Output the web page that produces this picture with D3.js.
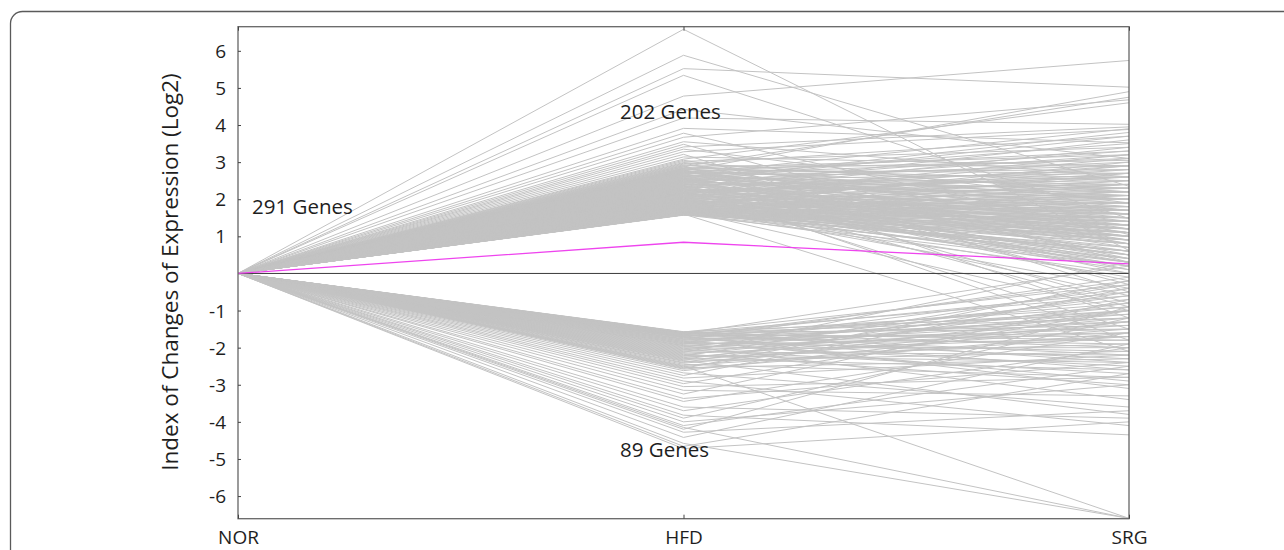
<!DOCTYPE html>
<html>
<head>
<meta charset="utf-8">
<script src="https://cdn.jsdelivr.net/npm/d3@7"></script>
<style>
  html, body { margin: 0; padding: 0; background: #fff; }
  svg { display: block; }
  text { font-family: "Open Sans", "Noto Sans", sans-serif; fill: #1e1e1e; }
</style>
</head>
<body>
<svg id="chart" width="1284" height="550"></svg>
<script>
// ---------------- DATA ----------------
const categories = ["NOR", "HFD", "SRG"];
const yTickValues = [6, 5, 4, 3, 2, 1, -1, -2, -3, -4, -5, -6];
const yTitle = "Index of Changes of Expression (Log2)";
const groupLabels = ["291 Genes", "202 Genes", "89 Genes"];

// 202 up-regulated genes (NOR = 0)
const upHFD = [
  6.58, 5.88, 5.52, 5.34, 4.78, 4.42, 4.19, 3.91, 3.78, 3.67, 3.55, 3.48, 3.41, 3.35, 3.28, 3.21, 3.14,
  3.08, 3.05, 3.02, 2.99, 2.97, 2.95, 2.93, 2.91, 2.90, 2.88, 2.87, 2.85, 2.84, 2.83, 2.82, 2.81, 2.80, 2.79, 2.78, 2.77, 2.76, 2.75, 2.74, 2.73, 2.72,
  2.71, 2.70, 2.69, 2.67, 2.66, 2.65, 2.63, 2.62, 2.61, 2.60,
  2.58, 2.57, 2.56, 2.54, 2.53, 2.52, 2.50, 2.49, 2.48, 2.46,
  2.45, 2.44, 2.42, 2.41, 2.40, 2.38, 2.37, 2.36, 2.34, 2.33,
  2.32, 2.31, 2.29, 2.28, 2.27, 2.26, 2.24, 2.23, 2.22, 2.21,
  2.20, 2.19, 2.17, 2.16, 2.15, 2.14, 2.13, 2.12, 2.10, 2.09,
  2.08, 2.07, 2.06, 2.05, 2.04, 2.03, 2.02, 2.01, 2.00, 1.99,
  1.98, 1.97, 1.96, 1.95, 1.95, 1.94, 1.93, 1.92, 1.91, 1.90,
  1.89, 1.89, 1.88, 1.87, 1.86, 1.85, 1.85, 1.84, 1.83, 1.82,
  1.81, 1.81, 1.80, 1.79, 1.78, 1.78, 1.77, 1.76, 1.75, 1.75,
  1.74, 1.73, 1.73, 1.72, 1.71, 1.71, 1.70, 1.69, 1.69, 1.68,
  1.68, 1.67, 1.67, 1.66, 1.66, 1.65, 1.65, 1.64, 1.64, 1.63,
  1.63, 1.62, 1.62, 1.62, 1.61, 1.61, 1.61, 1.60, 1.60, 1.60,
  1.59, 1.59, 1.59, 1.59, 1.58, 1.58, 1.58, 1.58, 1.58, 1.57,
  2.68, 2.55, 2.47, 2.39, 2.30, 2.18, 2.11, 1.99, 1.87, 1.76,
  2.64, 2.51, 2.43, 2.35, 2.25, 2.16, 2.06, 1.94, 1.83, 1.72,
  2.59, 2.49, 2.38, 2.27, 2.17, 2.04, 1.92, 1.80, 1.70, 1.63
];
const upSRG = [
  0.62, 2.35, 5.02, 1.48, 5.74, 3.10, 4.02, 3.52, 1.05, 4.68, 2.60, 0.30, 3.95, 1.90, 3.88, -0.50, 2.90,
  4.60, 1.20, 3.40, 2.20, 0.80, 3.70, 1.70, -1.20, 2.90, 4.75, 0.40, 2.50, 3.20, 1.40, 2.00, 3.05, -0.30, 2.70, 1.10, 4.90, 2.30, 0.90, 3.30, 1.60, 2.80,
  1.8, 2.6, 0.5, 3.1, 1.3, 2.2, 0.1, 2.9, 1.7, 3.5,
  2.4, 1.0, 2.0, -0.8, 1.5, 2.7, 0.7, 3.0, 1.9, 2.3,
  1.2, 3.3, 2.1, 0.3, 1.6, 2.5, -0.2, 1.4, 2.8, 0.9,
  2.2, 1.1, 3.6, 1.7, 0.6, 2.0, 1.3, 2.6, -1.5, 1.8,
  0.4, 2.4, 1.5, 2.9, 1.0, 1.9, 0.2, 2.3, 1.6, 3.2,
  1.4, 0.8, 2.1, 1.2, 2.7, 0.5, 1.7, 2.5, 1.1, -0.6,
  2.0, 1.3, 0.9, 2.8, 1.6, 0.3, 2.2, 1.0, 1.8, 0.7,
  2.4, 1.5, 0.1, 1.9, 1.2, 2.6, 0.6, 1.4, 3.0, 0.9,
  1.7, 0.4, 2.1, 1.1, -0.4, 1.5, 2.3, 0.8, 1.3, 1.9,
  0.2, 1.6, 2.5, 1.0, 1.4, 0.6, 2.0, 1.2, -1.0, 1.8,
  0.9, 1.3, 2.2, 0.5, 1.7, 1.1, 0.3, 1.5, 2.7, 0.8,
  1.6, 1.0, 0.0, 1.9, 1.2, 0.6, 2.4, 1.4, 0.7, -2.1,
  1.1, 1.8, 0.4, 1.3, 2.1, 0.9, 1.5, 0.2, 1.7, 1.0,
  3.9, 0.0, 3.7, 2.6, -0.9, 3.4, 1.6, 0.2, 2.9, 1.4,
  2.1, 3.8, 1.0, -1.8, 2.4, 1.2, 3.1, 1.5, 0.5, 2.2,
  0.8, 2.0, 3.2, 1.3, 2.6, 0.3, 1.9, -0.1, 1.1, 0.6
];

// 89 down-regulated genes (NOR = 0)
const downHFD = [
  -2.62, -2.68, -2.75, -2.82, -2.90, -2.97, -3.05, -3.15, -3.25, -3.37, -3.45, -3.60,
  -3.70, -3.82, -3.90, -4.00, -4.10, -4.15, -4.20, -4.28, -4.42, -4.58, -4.66, -4.72,
  -1.57, -1.58, -1.58, -1.59, -1.60, -1.60, -1.61, -1.62, -1.62, -1.63,
  -1.64, -1.65, -1.66, -1.67, -1.68, -1.69, -1.70, -1.71, -1.72, -1.73,
  -1.74, -1.76, -1.77, -1.78, -1.80, -1.81, -1.83, -1.84, -1.86, -1.87,
  -1.89, -1.90, -1.92, -1.94, -1.95, -1.97, -1.99, -2.01, -2.03, -2.05,
  -2.07, -2.09, -2.11, -2.13, -2.15, -2.17, -2.19, -2.21, -2.23, -2.25,
  -2.27, -2.29, -2.31, -2.33, -2.35, -2.37, -2.40, -2.42, -2.45, -2.48,
  -2.50, -2.52, -2.54, -2.56, -2.58
];
const downSRG = [
  -1.3, -3.6, -0.4, -2.2, -4.1, -1.0, -2.8, -3.3, -0.7, -2.4, -1.6, -3.9,
  -2.0, -4.35, -1.2, -3.0, -2.5, -6.6, -0.9, -3.7, -1.9, -6.6, -2.7, -4.0,
  -1.1, -0.3, -2.0, -1.5, -0.6, -2.4, -1.2, 0.2, -1.8, -0.9,
  -1.4, -2.2, -0.5, -1.7, -3.1, -1.0, -0.2, -2.6, -1.3, -1.9,
  -0.8, -1.6, -2.3, -0.1, -1.2, -2.9, -1.5, -0.7, -2.1, -1.0,
  -1.8, -0.4, -2.5, -1.3, -3.4, -0.9, -1.6, -2.0, -1.1, -2.7,
  -0.6, -1.4, -2.2, 0.3, -1.7, -3.0, -1.0, -2.4, -0.3, -1.9,
  -1.2, -2.6, -0.8, -1.5, -3.8, -2.1, -0.5, -1.3, -2.8, -1.7,
  -6.6, -1.0, -2.3, -0.2, -1.6
];

// highlighted gene (magenta)
const highlight = [0, 0.84, 0.26];

// ---------------- CHART ----------------
const svg = d3.select("#chart");
const plot = { left: 238, right: 1129, top: 26.7, bottom: 518.7 };

const x = d3.scalePoint().domain(categories).range([plot.left, plot.right]);
const y = d3.scaleLinear().domain([-6.61, 6.65]).range([plot.bottom, plot.top]);

// outer rounded frame
svg.append("rect")
  .attr("x", 10.5).attr("y", 11.5)
  .attr("width", 1320).attr("height", 620)
  .attr("rx", 12).attr("ry", 12)
  .attr("fill", "none").attr("stroke", "#5a5a5a").attr("stroke-width", 1.3);

const genes = [];
upHFD.forEach((v, i) => genes.push([0, v, upSRG[i]]));
downHFD.forEach((v, i) => genes.push([0, v, downSRG[i]]));

const line = d3.line().x((d, i) => x(categories[i])).y(d => y(d));

svg.append("defs").append("clipPath").attr("id", "pc")
  .append("rect").attr("x", plot.left).attr("y", plot.top)
  .attr("width", plot.right - plot.left).attr("height", plot.bottom - plot.top);

const g = svg.append("g").attr("clip-path", "url(#pc)");
g.selectAll("path.gene").data(genes).join("path")
  .attr("class", "gene")
  .attr("d", line)
  .attr("fill", "none")
  .attr("stroke", "#c3c3c3")
  .attr("stroke-width", 1);

// zero line
g.append("line")
  .attr("x1", plot.left).attr("x2", plot.right)
  .attr("y1", y(0)).attr("y2", y(0))
  .attr("stroke", "#3a3a3a").attr("stroke-width", 1);

// magenta line
g.append("path").datum(highlight)
  .attr("d", line)
  .attr("fill", "none")
  .attr("stroke", "#ee44ee")
  .attr("stroke-width", 1.3);

// plot frame
svg.append("rect")
  .attr("x", plot.left).attr("y", plot.top)
  .attr("width", plot.right - plot.left).attr("height", plot.bottom - plot.top)
  .attr("fill", "none").attr("stroke", "#666").attr("stroke-width", 1.3);

// y axis
const yAxis = svg.append("g")
  .attr("transform", `translate(${plot.left},0)`)
  .call(d3.axisLeft(y).tickValues(yTickValues).tickFormat(d => String(d)).tickSizeInner(-3).tickSizeOuter(0).tickPadding(12));
yAxis.select(".domain").remove();
yAxis.selectAll(".tick line").attr("stroke", "#444");
yAxis.selectAll(".tick text").style("font-size", "19px").attr("fill", "#1e1e1e").attr("dy", "0.34em");

// x axis (bottom)
const xAxis = svg.append("g")
  .attr("transform", `translate(0,${plot.bottom})`)
  .call(d3.axisBottom(x).tickSizeInner(-4).tickSizeOuter(0).tickPadding(12));
xAxis.select(".domain").remove();
xAxis.selectAll(".tick line").attr("stroke", "#444");
xAxis.selectAll(".tick text").style("font-size", "19px").attr("fill", "#1e1e1e");

// x axis (top ticks)
const xTop = svg.append("g")
  .attr("transform", `translate(0,${plot.top})`)
  .call(d3.axisTop(x).tickSizeInner(-4).tickSizeOuter(0).tickFormat(""));
xTop.select(".domain").remove();
xTop.selectAll(".tick line").attr("stroke", "#444");

// y title
svg.append("text")
  .attr("transform", `translate(178,${272}) rotate(-90)`)
  .attr("text-anchor", "middle")
  .style("font-size", "22.5px")
  .text(yTitle);

// group labels
svg.append("text").attr("x", 252).attr("y", 214).style("font-size", "20.5px").text(groupLabels[0]);
svg.append("text").attr("x", 620).attr("y", 119).style("font-size", "20.5px").text(groupLabels[1]);
svg.append("text").attr("x", 620).attr("y", 457).style("font-size", "20.5px").text(groupLabels[2]);
</script>
</body>
</html>
